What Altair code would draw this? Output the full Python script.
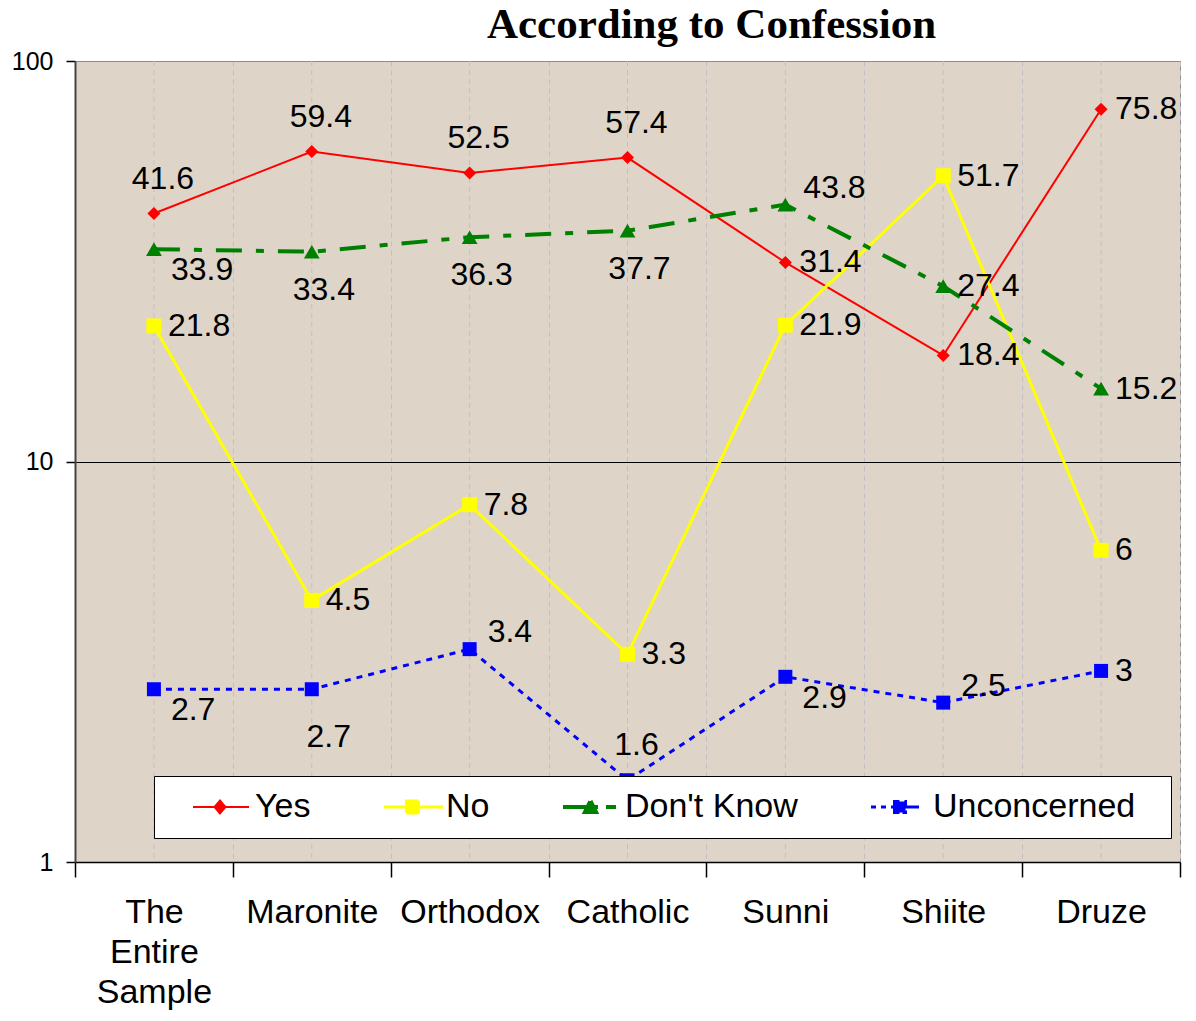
import json
import altair as alt
import pandas as pd

# ---------------- data ----------------
categories = ["The Entire Sample", "Maronite", "Orthodox", "Catholic", "Sunni", "Shiite", "Druze"]
series_names = ["Yes", "No", "Don't Know", "Unconcerned"]
yes_values = [41.6, 59.4, 52.5, 57.4, 31.4, 18.4, 75.8]
no_values = [21.8, 4.5, 7.8, 3.3, 21.9, 51.7, 6]
dont_know_values = [33.9, 33.4, 36.3, 37.7, 43.8, 27.4, 15.2]
unconcerned_values = [2.7, 2.7, 3.4, 1.6, 2.9, 2.5, 3]
y_tick_values = [1, 10, 100]

# label placement codes (where each data label sits relative to its point)
yes_label_pos = ["above", "above", "above", "above", "right", "right", "right"]
no_label_pos = ["right", "right", "right", "right", "right", "right", "right"]
dont_know_label_pos = ["right_below", "below", "below", "below", "right_above", "right", "right"]
unconcerned_label_pos = ["right_below", "below_far", "right_above", "above", "right_below", "right_above", "right"]

# ---------------- styles ----------------
colors = {"Yes": "#FF0000", "No": "#FFFF00", "Don't Know": "#008000", "Unconcerned": "#0000FF"}
line_widths = {"Yes": 2, "No": 3, "Don't Know": 4, "Unconcerned": 3}
line_dashes = {"Yes": None, "No": None, "Don't Know": [26, 14, 8, 14], "Unconcerned": [6, 6]}
marker_shapes = {"Yes": "diamond", "No": "square", "Don't Know": "triangle-up", "Unconcerned": "square"}
marker_sizes = {"Yes": 170, "No": 225, "Don't Know": 250, "Unconcerned": 196}
legend_dashes = {"Yes": [1, 0], "No": [1, 0], "Don't Know": [35, 8, 10, 8], "Unconcerned": [5, 5, 5, 5, 5, 3, 40, 5]}
legend_paths = {
    "Yes": "M0.533,0L4.267,0M2.333,-0.433L2.7,0L2.333,0.433L1.967,0Z",
    "No": "M0.533,0L4.467,0M2.033,-0.4L2.833,-0.4L2.833,0.4L2.033,0.4Z",
    "Don't Know": "M0.533,0L4.067,0M2.367,-0.4L2.733,0.333L2,0.333Z",
    "Unconcerned": "M0.533,0L3.733,0M2.1,-0.367L2.833,-0.367L2.833,0.367L2.1,0.367Z",
}
placements = {
    "right": dict(align="left", dx=14, dy=0),
    "above": dict(align="center", dx=9, dy=-35),
    "below": dict(align="center", dx=12, dy=38),
    "below_far": dict(align="center", dx=17, dy=48),
    "right_below": dict(align="left", dx=17, dy=21),
    "right_above": dict(align="left", dx=18, dy=-17),
}
FONT = "Liberation Sans"
SEAM = "#C2BFC4"

# ---------------- table ----------------
value_lists = [yes_values, no_values, dont_know_values, unconcerned_values]
pos_lists = [yes_label_pos, no_label_pos, dont_know_label_pos, unconcerned_label_pos]
rows = []
for name, vals, poss in zip(series_names, value_lists, pos_lists):
    for cat, v, p in zip(categories, vals, poss):
        rows.append({"category": cat, "series": name, "value": v, "label": f"{v:g}", "pos": p})
df = pd.DataFrame(rows)
cat_df = pd.DataFrame({"category": categories})


def expr_map(mapping):
    parts = []
    for k, v in mapping.items():
        parts.append(f"datum.value === {json.dumps(k)} ? {json.dumps(v)} : ")
    return "".join(parts) + json.dumps(list(mapping.values())[0])


legend = alt.Legend(
    # an invisible (white) spacer title on the right widens the box like the reference
    title=".",
    titleOrient="right",
    titleColor="white",
    titleFontSize=10,
    titlePadding=19,
    orient="none",
    legendX=79,
    legendY=715,
    direction="horizontal",
    columns=4,
    fillColor="white",
    strokeColor="black",
    padding=14,
    symbolSize=900,
    symbolType={"expr": expr_map(legend_paths)},
    symbolFillColor={"expr": expr_map(colors)},
    symbolStrokeColor={"expr": expr_map(colors)},
    symbolStrokeWidth={"expr": expr_map(line_widths)},
    symbolDash={"expr": expr_map(legend_dashes)},
    symbolOpacity=1,
    labelFontSize=34,
    labelFont=FONT,
    labelColor="black",
    labelOffset=53,
    columnPadding=48,
    labelLimit=500,
)

x_axis = alt.Axis(
    title=None,
    labelAngle=0,
    labelAlign="center",
    labelFontSize=34,
    labelFont=FONT,
    labelColor="black",
    labelLineHeight=40,
    labelPadding=35,
    labelOverlap=False,
    labelLimit=300,
    labelExpr="datum.value === 'The Entire Sample' ? ['The', 'Entire', 'Sample'] : datum.label",
    tickSize=15,
    tickColor="black",
    tickWidth=1.5,
    tickBand="extent",
    domainColor="black",
    domainWidth=1.5,
    grid=True,
    gridColor=SEAM,
    gridDash=[5, 4],
    gridWidth=1,
)
y_axis = alt.Axis(
    title=None,
    values=y_tick_values,
    format="d",
    labelFontSize=25,
    labelFont=FONT,
    labelColor="black",
    labelPadding=13,
    tickSize=9,
    tickColor="black",
    tickWidth=1.5,
    domainColor="#444444",
    domainWidth=2,
    grid=True,
    gridColor={"condition": {"test": "datum.value === 10", "value": "black"}, "value": "#8C8C8C"},
    gridWidth=1,
)

x_enc = alt.X(
    "category:N",
    sort=categories,
    scale=alt.Scale(type="band", domain=categories, paddingInner=0, paddingOuter=0),
    axis=x_axis,
)
y_enc = alt.Y(
    "value:Q",
    scale=alt.Scale(type="log", domain=[1, 100], nice=False),
    axis=y_axis,
)
color_scale = alt.Scale(domain=series_names, range=[colors[s] for s in series_names])
color_legend = alt.Color("series:N", scale=color_scale, legend=legend)
color_plain = alt.Color("series:N", scale=color_scale, legend=None)

layers = []
# faint texture seam lines at category centres
layers.append(
    alt.Chart(cat_df)
    .mark_rule(color=SEAM, strokeDash=[5, 4], strokeWidth=1)
    .encode(x=alt.X("category:N", sort=categories))
)

for s in series_names:
    base = alt.Chart(df).transform_filter(alt.datum.series == s)
    line_kwargs = dict(strokeWidth=line_widths[s])
    if line_dashes[s]:
        line_kwargs["strokeDash"] = line_dashes[s]
    layers.append(base.mark_line(**line_kwargs).encode(x=x_enc, y=y_enc, color=color_legend))
    layers.append(
        base.mark_point(filled=True, opacity=1, shape=marker_shapes[s], size=marker_sizes[s], strokeWidth=0)
        .encode(x=x_enc, y=y_enc, color=color_plain)
    )

for code, p in placements.items():
    layers.append(
        alt.Chart(df)
        .transform_filter(alt.datum.pos == code)
        .mark_text(
            align=p["align"], baseline="middle", dx=p["dx"], dy=p["dy"],
            fontSize=32, font=FONT, color="black",
        )
        .encode(x=x_enc, y=y_enc, text="label:N")
    )

chart = (
    alt.layer(*layers)
    .properties(
        width=1105,
        height=801,
        title=alt.Title(
            "According to Confession",
            font="Liberation Serif",
            fontSize=43,
            fontWeight="bold",
            color="black",
            anchor="middle",
            frame="group",
            dx=84,
            dy=8,
            offset=10,
        ),
        autosize=alt.AutoSizeParams(type="none"),
        padding={"left": 67, "top": 53, "right": 8, "bottom": 151},
    )
    .configure_view(fill="#DED5C8", stroke="#8C8C8C", strokeWidth=1)
)

chart.save("out.html", embed_options={"renderer": "svg", "actions": False})
